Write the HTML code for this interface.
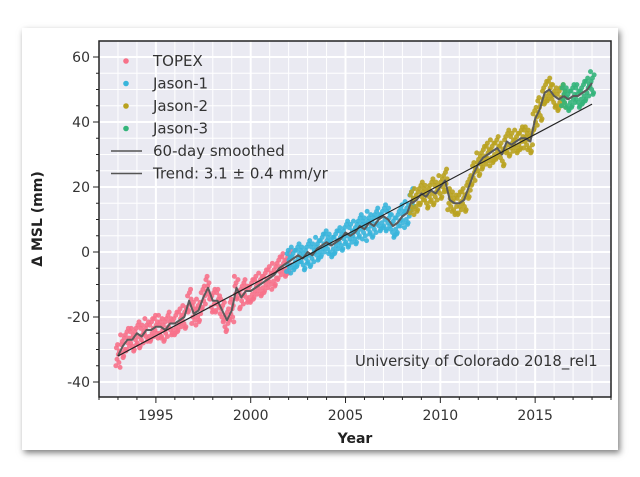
<!DOCTYPE html>
<html><head><meta charset="utf-8"><style>
body{margin:0;background:#fff;width:640px;height:477px;overflow:hidden;font-family:"DejaVu Sans","Liberation Sans",sans-serif}
#card{position:absolute;left:22px;top:28px;width:596px;height:422px;background:#fff;box-shadow:2px 3px 6px rgba(0,0,0,0.5)}
svg{position:absolute;left:0;top:0}
</style></head><body>
<div id="card"></div>
<svg id="chart" width="640" height="477"></svg>
<script>
const topexStart=1993.0, topexVals=[-32,-29,-27,-27,-25,-26,-24,-24,-23,-23,-24,-22,-22,-21,-20,-15,-19,-18,-14,-11,-15,-15,-18,-21,-18,-11,-14,-12,-12,-11,-10,-9,-8,-7,-5,-4,-3];
const jason1Start=2002.0, jason1Vals=[-3,-2,-1,-2,0,-1,1,2,3,2,3,4,6,5,6,8,7,9,8,10,11,10,8,9,11,12,16];
const jason2Start=2008.5, jason2Vals=[15,16,18,17,19,18,20,22,16,15,15,16,20,24,27,29,30,31,32,30,34,33,34,35,35,34,41,44,49,50,48,47,48];
const jason3Start=2016.5, jason3Vals=[48,47,48,48,49,50,52];
const jitterY=[-3,2.5,-1,3.5,0.5,-2,1.5,-3.5];
const jitterX=[-0.11,-0.08,-0.05,-0.02,0.02,0.05,0.08,0.11];
const xTicks=[1995,2000,2005,2010,2015];
const yTicks=[-40,-20,0,20,40,60];
const trendStart=[1993,-32], trendEnd=[2018,45.5];

const L=99,R=611,T=41,B=397;
const X=t=>L+(t-1992)*(R-L)/27;
const Y=v=>252-v*3.25;
const svg=document.getElementById('chart');
const NS='http://www.w3.org/2000/svg';
function mk(tag,at,parent){const e=document.createElementNS(NS,tag);for(const k in at)e.setAttribute(k,at[k]);(parent||svg).appendChild(e);return e;}

const bg=mk('rect',{x:L,y:T,width:R-L,height:B-T,fill:'#eaeaf2'});


const grid=mk('g',{});


for(let yr=1992;yr<=2019;yr++){const major=yr%5==0;mk('line',{x1:X(yr),x2:X(yr),y1:T,y2:B,stroke:'#fff','stroke-width':major?2:1},grid);}
for(let v=-40;v<=65;v+=5){const major=v%20==0;if(Y(v)<T||Y(v)>B)continue;mk('line',{x1:L,x2:R,y1:Y(v),y2:Y(v),stroke:'#fff','stroke-width':major?2:1},grid);}
const axes=mk('rect',{x:L,y:T,width:R-L,height:B-T,fill:'none',stroke:'#222','stroke-width':1.5});



const series=[['topex',topexStart,topexVals,'#f77189'],['jason-1',jason1Start,jason1Vals,'#38b5db'],['jason-2',jason2Start,jason2Vals,'#b9a21f'],['jason-3',jason3Start,jason3Vals,'#33b47a']];
series.forEach(([nm,st,vals,col])=>{
  const g=mk('g',{fill:col,'fill-opacity':0.9});
  
  
  vals.forEach((v,i)=>{for(let j=0;j<jitterY.length;j++){const t=st+i*0.25+jitterX[j];mk('circle',{cx:X(t),cy:Y(v+jitterY[(i*3+j)%jitterY.length]),r:2.5},g);}});
});
series.forEach(([nm,st,vals])=>{
  const p=mk('polyline',{points:vals.map((v,i)=>X(st+i*0.25)+','+Y(v)).join(' '),fill:'none',stroke:'#5a5a5a','stroke-width':2,'stroke-linejoin':'round'});
  
  
});
const tr=mk('line',{x1:X(trendStart[0]),y1:Y(trendStart[1]),x2:X(trendEnd[0]),y2:Y(trendEnd[1]),stroke:'#222','stroke-width':1.2});



for(let yr=1992;yr<=2019;yr++){const major=yr%5==0;mk('line',{x1:X(yr),x2:X(yr),y1:B,y2:B+(major?6:3),stroke:'#222','stroke-width':1});}
for(let v=-40;v<=65;v+=5){if(Y(v)<T||Y(v)>B)continue;const major=v%20==0;mk('line',{x1:L,x2:L-(major?6:3),y1:Y(v),y2:Y(v),stroke:'#222','stroke-width':1});}
xTicks.forEach(t=>{const e=mk('text',{x:X(t),y:B+23,'text-anchor':'middle','font-size':14,fill:'#333'});e.textContent=t;

});
yTicks.forEach(v=>{const e=mk('text',{x:L-9,y:Y(v)+5,'text-anchor':'end','font-size':14,fill:'#333'});e.textContent=v;

});
const xt=mk('text',{x:355,y:443,'text-anchor':'middle','font-size':14,'font-weight':'bold',fill:'#222'});xt.textContent='Year';


const yt=mk('text',{x:0,y:0,transform:'translate(42,219) rotate(-90)','text-anchor':'middle','font-size':14,'font-weight':'bold',fill:'#222'});yt.textContent='Δ MSL (mm)';


const ann=mk('text',{x:355,y:366,'font-size':14.8,fill:'#333'});ann.textContent='University of Colorado 2018_rel1';



const leg=mk('g',{});


const legItems=[['TOPEX','#f77189'],['Jason-1','#38b5db'],['Jason-2','#b9a21f'],['Jason-3','#33b47a'],['60-day smoothed',null],['Trend: 3.1 ± 0.4 mm/yr',null]];
legItems.forEach(([lab,col],i)=>{
  const y=61+i*22.5;
  const g=mk('g',{},leg);
  
  
  if(col)mk('circle',{cx:126,cy:y,r:2.8,fill:col},g);
  else mk('line',{x1:111,x2:142,y1:y,y2:y,stroke:'#555','stroke-width':1.5},g);
  const t=mk('text',{x:153,y:y+5,'font-size':15,fill:'#333'},g);t.textContent=lab;
});
</script>
</body></html>
